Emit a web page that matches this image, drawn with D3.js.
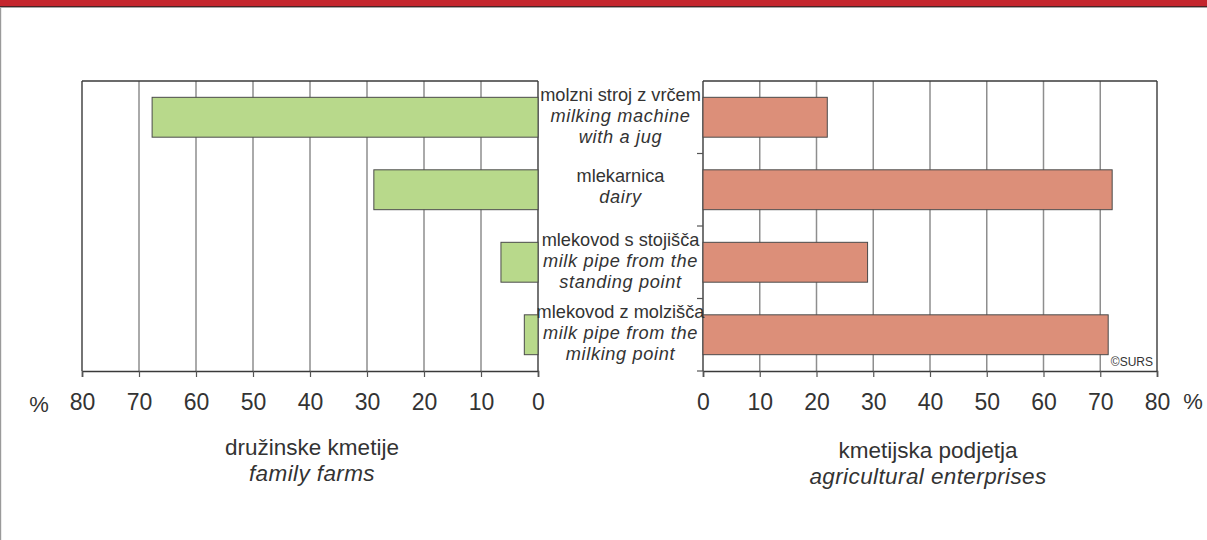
<!DOCTYPE html>
<html>
<head>
<meta charset="utf-8">
<script src="https://cdn.jsdelivr.net/npm/d3@7"></script>
<style>
  html, body { margin: 0; padding: 0; background: #fff; }
  svg { display: block; font-family: "Liberation Sans", Arial, Helvetica, sans-serif; }
</style>
</head>
<body>
<svg id="chart" width="1207" height="540"></svg>
<script>
// ---------- data ----------
const categories = ["milkingMachineJug", "dairy", "pipeStanding", "pipeMilking"];
const labelsSl = ["molzni stroj z vrčem", "mlekarnica", "mlekovod s stojišča", "mlekovod z molzišča"];
const labelsEn = [["milking machine", "with a jug"], ["dairy"], ["milk pipe from the", "standing point"], ["milk pipe from the", "milking point"]];
const familyFarms = [67.7, 28.8, 6.5, 2.4];
const enterprises = [21.9, 72.1, 29.0, 71.4];
const tickValues = [0, 10, 20, 30, 40, 50, 60, 70, 80];
const leftTitle = ["družinske kmetije", "family farms"];
const rightTitle = ["kmetijska podjetja", "agricultural enterprises"];
const sourceNote = "©SURS";

// ---------- layout ----------
const svg = d3.select("#chart");
const yTop = 81, yBottom = 371;
const xL = d3.scaleLinear().domain([0, 80]).range([538, 82]);
const xR = d3.scaleLinear().domain([0, 80]).range([703, 1157]);
const y = d3.scaleBand().domain(categories).range([yTop, yBottom]).paddingInner(0.45).paddingOuter(0.225);
const step = y.step();

const txt = "#333333";
const grid = "#8e8e8e";
const frame = "#3a3a3a";

// page decoration
svg.append("rect").attr("x", 0).attr("y", 0).attr("width", 1207).attr("height", 6).attr("fill", "#c4262e");
svg.append("rect").attr("x", 0).attr("y", 6).attr("width", 1207).attr("height", 1.2).attr("fill", "#4a2326");
svg.append("rect").attr("x", 0).attr("y", 7.2).attr("width", 1207).attr("height", 0.8).attr("fill", "#9a9a9a");
svg.append("rect").attr("x", 0).attr("y", 8).attr("width", 1.2).attr("height", 532).attr("fill", "#9a9a9a");

function panel(x, values, fill) {
  const g = svg.append("g");
  g.selectAll("line.grid").data(tickValues.filter(d => d > 0 && d < 80)).join("line")
    .attr("x1", d => x(d)).attr("x2", d => x(d))
    .attr("y1", yTop).attr("y2", yBottom)
    .attr("stroke", grid).attr("stroke-width", 1.5);
  g.append("line").attr("x1", x(0)).attr("x2", x(80)).attr("y1", yTop).attr("y2", yTop)
    .attr("stroke", frame).attr("stroke-width", 1.4);
  g.append("line").attr("x1", x(80)).attr("x2", x(80)).attr("y1", yTop).attr("y2", yBottom)
    .attr("stroke", frame).attr("stroke-width", 1.4);
  g.append("line").attr("x1", x(0)).attr("x2", x(0)).attr("y1", yTop).attr("y2", yBottom)
    .attr("stroke", frame).attr("stroke-width", 1.4);
  g.selectAll("rect.bar").data(categories).join("rect")
    .attr("x", (d, i) => Math.min(x(0), x(values[i])))
    .attr("width", (d, i) => Math.abs(x(values[i]) - x(0)))
    .attr("y", d => y(d))
    .attr("height", y.bandwidth())
    .attr("fill", fill)
    .attr("stroke", "#4a4a4a").attr("stroke-width", 1);
  const ax = g.append("g").attr("transform", `translate(0,${yBottom})`)
    .call(d3.axisBottom(x).tickValues(tickValues).tickSize(6).tickPadding(17).tickFormat(d3.format("d")));
  ax.select(".domain").attr("stroke", frame).attr("stroke-width", 1.6);
  ax.selectAll(".tick line").attr("stroke", "#555").attr("stroke-width", 1.2);
  ax.selectAll(".tick text").attr("fill", txt).attr("font-size", 23)
    .attr("font-family", "'Liberation Sans', Arial, Helvetica, sans-serif");
  return g;
}

panel(xL, familyFarms, "#b8d98b");
const gR = panel(xR, enterprises, "#dc8f79");

const boundaries = categories.map((d, i) => yTop + step * (i + 1));
gR.selectAll("line.ytick").data(boundaries).join("line")
  .attr("x1", xR(0) - 6).attr("x2", xR(0))
  .attr("y1", d => d).attr("y2", d => d)
  .attr("stroke", "#555").attr("stroke-width", 1.2);

// percent signs
svg.append("text").attr("x", 39).attr("y", 412).attr("text-anchor", "middle")
  .attr("font-size", 22).attr("fill", txt).text("%");
svg.append("text").attr("x", 1193).attr("y", 409).attr("text-anchor", "middle")
  .attr("font-size", 22).attr("fill", txt).text("%");

// category labels
const cx = (xL(0) + xR(0)) / 2;
const lh = 21;
categories.forEach((c, i) => {
  const lines = [{ t: labelsSl[i], it: false }].concat(labelsEn[i].map(t => ({ t, it: true })));
  const mid = y(c) + y.bandwidth() / 2 - (lines.length === 2 ? 4 : 2);
  const y0 = mid - (lines.length - 1) * lh / 2;
  lines.forEach((ln, j) => {
    svg.append("text").attr("x", cx).attr("y", y0 + j * lh).attr("dy", "0.35em")
      .attr("text-anchor", "middle").attr("font-size", 18.2)
      .attr("font-style", ln.it ? "italic" : "normal")
      .attr("letter-spacing", ln.it ? 0.65 : 0)
      .attr("fill", txt).text(ln.t);
  });
});

// titles
function title(xc, base, lines) {
  lines.forEach((t, j) => {
    svg.append("text").attr("x", xc).attr("y", base + j * 26).attr("text-anchor", "middle")
      .attr("font-size", 22.5).attr("font-style", j === 1 ? "italic" : "normal")
      .attr("letter-spacing", j === 1 ? 0.4 : 0)
      .attr("fill", txt).text(t);
  });
}
title((xL(0) + xL(80)) / 2 + 2, 455, leftTitle);
title((xR(0) + xR(80)) / 2 - 2, 458, rightTitle);

// source
svg.append("text").attr("x", xR(80) - 4).attr("y", 366).attr("text-anchor", "end")
  .attr("font-size", 12).attr("fill", txt).text(sourceNote);
</script>
</body>
</html>
